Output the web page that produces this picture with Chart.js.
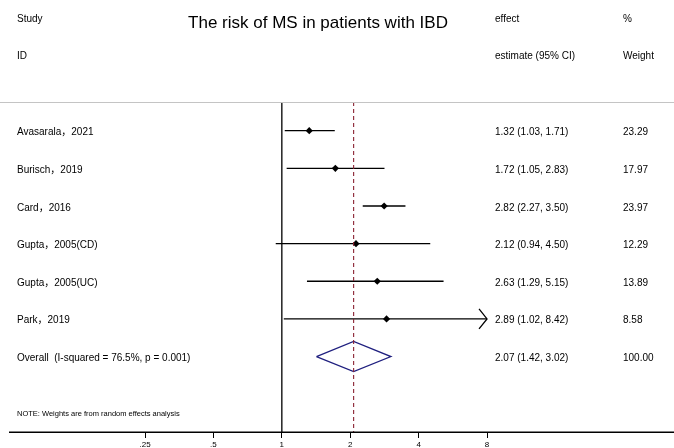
<!DOCTYPE html>
<html>
<head>
<meta charset="utf-8">
<script src="https://cdn.jsdelivr.net/npm/chart.js@4/dist/chart.umd.min.js"></script>
<style>
  html, body { margin: 0; padding: 0; background: #fff; }
  #wrap { width: 674px; height: 448px; position: relative; }
</style>
</head>
<body>
<div id="wrap"><canvas id="c" width="674" height="448"></canvas></div>
<script>
const titleText = 'The risk of MS in patients with IBD';
const studies = ['Avasarala，2021', 'Burisch，2019', 'Card，2016', 'Gupta，2005(CD)', 'Gupta，2005(UC)', 'Park，2019'];
const estimates = [1.32, 1.72, 2.82, 2.12, 2.63, 2.89];
const lowerCI = [1.03, 1.05, 2.27, 0.94, 1.29, 1.02];
const upperCI = [1.71, 2.83, 3.50, 4.50, 5.15, 8.42];
const weights = ['23.29', '17.97', '23.97', '12.29', '13.89', '8.58'];
const overallLabel = 'Overall  (I-squared = 76.5%, p = 0.001)';
const overallEst = 2.07;
const overallLo = 1.42;
const overallHi = 3.02;
const overallWeight = '100.00';
const noteText = 'NOTE: Weights are from random effects analysis';
const tickValues = [0.25, 0.5, 1, 2, 4, 8];
const tickLabels = ['.25', '.5', '1', '2', '4', '8'];

const FONT = '"Liberation Sans", Arial, "Noto Sans CJK SC", sans-serif';
const axisMax = tickValues[tickValues.length - 1];
const Y_MIN = -0.763, Y_MAX = 8.005;
const overallRow = studies.length;

const fmt = v => v.toFixed(2);

const datasets = [];
datasets.push({
  data: [{x: 1, y: Y_MIN}, {x: 1, y: Y_MAX}],
  showLine: true, borderColor: '#000', borderWidth: 1.3, pointRadius: 0
});
datasets.push({
  data: [{x: overallEst, y: Y_MIN}, {x: overallEst, y: Y_MAX}],
  showLine: true, borderColor: '#8b2232', borderWidth: 1.1, borderDash: [4, 3], pointRadius: 0
});
studies.forEach((s, i) => {
  datasets.push({
    data: [{x: lowerCI[i], y: i}, {x: Math.min(upperCI[i], axisMax), y: i}],
    showLine: true, borderColor: '#000', borderWidth: 1.3, pointRadius: 0
  });
});
datasets.push({
  data: estimates.map((e, i) => ({x: e, y: i})),
  showLine: false, pointStyle: 'rectRot', pointRadius: 3.6,
  backgroundColor: '#000', borderColor: '#000', borderWidth: 0
});
datasets.push({
  data: [
    {x: overallLo, y: overallRow}, {x: overallEst, y: overallRow - 0.4},
    {x: overallHi, y: overallRow}, {x: overallEst, y: overallRow + 0.4},
    {x: overallLo, y: overallRow}
  ],
  showLine: true, borderColor: '#1f1f7f', borderWidth: 1.3, pointRadius: 0, fill: false
});

const textPlugin = {
  id: 'forestText',
  afterDraw(chart) {
    const ctx = chart.ctx;
    const xs = chart.scales.x, ys = chart.scales.y;
    const rowY = r => ys.getPixelForValue(r);
    ctx.save();
    ctx.strokeStyle = '#c4c4c4';
    ctx.lineWidth = 1;
    ctx.beginPath();
    ctx.moveTo(0, chart.chartArea.top + 0.5);
    ctx.lineTo(674, chart.chartArea.top + 0.5);
    ctx.stroke();

    // x-axis rule running from the scale's left edge to the right edge of the figure
    ctx.strokeStyle = '#000';
    ctx.lineWidth = 1.5;
    ctx.beginPath();
    ctx.moveTo(xs.left, xs.top + 0.25);
    ctx.lineTo(674, xs.top + 0.25);
    ctx.stroke();

    ctx.lineWidth = 1.3;
    upperCI.forEach((u, i) => {
      if (u > axisMax) {
        const tx = xs.getPixelForValue(axisMax), ty = rowY(i);
        ctx.beginPath();
        ctx.moveTo(tx - 8, ty - 10);
        ctx.lineTo(tx, ty);
        ctx.lineTo(tx - 8, ty + 10);
        ctx.stroke();
      }
    });

    ctx.fillStyle = '#000';
    ctx.textBaseline = 'middle';
    ctx.font = '17px ' + FONT;
    ctx.textAlign = 'center';
    ctx.fillText(titleText, 318, 23);
    ctx.textAlign = 'left';

    const colLabel = 17, colEffect = 495, colWeight = 623;
    ctx.font = '10px ' + FONT;
    const hy1 = rowY(-3) + 1, hy2 = rowY(-2) + 1;
    ctx.fillText('Study', colLabel, hy1);
    ctx.fillText('ID', colLabel, hy2);
    ctx.fillText('effect', colEffect, hy1);
    ctx.fillText('estimate (95% CI)', colEffect, hy2);
    ctx.fillText('%', colWeight, hy1);
    ctx.fillText('Weight', colWeight, hy2);

    studies.forEach((s, i) => {
      const y = rowY(i) + 1.8;
      ctx.fillText(s, colLabel, y);
      ctx.fillText(`${fmt(estimates[i])} (${fmt(lowerCI[i])}, ${fmt(upperCI[i])})`, colEffect, y);
      ctx.fillText(weights[i], colWeight, y);
    });
    const oy = rowY(overallRow) + 1.8;
    ctx.fillText(overallLabel, colLabel, oy);
    ctx.fillText(`${fmt(overallEst)} (${fmt(overallLo)}, ${fmt(overallHi)})`, colEffect, oy);
    ctx.fillText(overallWeight, colWeight, oy);

    ctx.font = '7.5px ' + FONT;
    ctx.fillText(noteText, colLabel, rowY(7.5) + 1);
    ctx.restore();
  }
};

new Chart(document.getElementById('c'), {
  type: 'scatter',
  data: { datasets },
  options: {
    responsive: false,
    animation: false,
    events: [],
    layout: { padding: { top: 102, left: 9, right: 0, bottom: 0 } },
    plugins: { legend: { display: false }, tooltip: { enabled: false }, title: { display: false } },
    scales: {
      x: {
        type: 'logarithmic',
        min: 0.06297,
        max: 51.1,
        bounds: 'data',
        afterBuildTicks: scale => { scale.ticks = tickValues.map(v => ({ value: v })); },
        afterFit: scale => { scale.height = 16; },
        border: { display: false },
        grid: { display: true, drawOnChartArea: false, drawTicks: true, tickLength: 6, color: '#000', lineWidth: 1 },
        ticks: {
          autoSkip: false, maxRotation: 0, padding: 2,
          color: '#000', font: { size: 8, family: FONT },
          callback: (v, idx) => tickLabels[idx]
        }
      },
      y: {
        type: 'linear', display: false, reverse: true, min: Y_MIN, max: Y_MAX
      }
    }
  },
  plugins: [textPlugin]
});
</script>
</body>
</html>
